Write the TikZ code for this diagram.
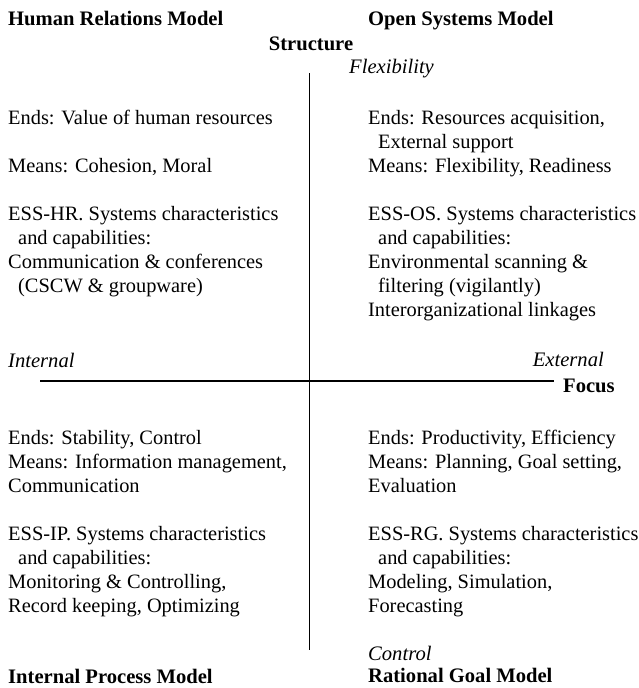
\documentclass[tikz,border=0pt]{standalone}
\usepackage{fontspec}
\setmainfont{Liberation Serif}
\tikzset{
  txt/.style={anchor=base west, inner sep=0pt, font=\fontsize{20.4}{24}\selectfont},
  hdr/.style={txt, font=\fontsize{20.6}{24}\selectfont\bfseries},
  itl/.style={txt, font=\fontsize{20.6}{24}\selectfont\itshape},
  axisv/.style={line width=1.5pt},
  axish/.style={line width=2.4pt}
}
\newcommand{\ind}{\hspace*{10pt}}
\begin{document}
\begin{tikzpicture}[x=1pt,y=-1pt]
\useasboundingbox (0,0) rectangle (639,688);
% headers
\node[hdr] (hr) at (8,25) {Human Relations Model};
\node[hdr] (os) at (368,25) {Open Systems Model};
\node[hdr, anchor=base] (struct) at (311,50) {Structure};
\node[itl] (flex) at (349,73) {Flexibility};
% axes
\coordinate (vtop) at (309.5,73);
\coordinate (vbot) at (309.5,650);
\coordinate (hl) at (40,381);
\coordinate (hr2) at (554,381);
\draw[axisv] (vtop) -- (vbot);
\draw[axish] (hl) -- (hr2);
\node[itl] (int) at (8,367) {Internal};
\node[itl, anchor=base east] (ext) at (604,366) {External};
\node[hdr] (focus) at (563,392) {Focus};
% top left
\node[txt] (tl1) at (8,124) {Ends: Value of human resources};
\node[txt] (tl2) at (8,172) {Means: Cohesion, Moral};
\node[txt] (tl3) at (8,220) {ESS-HR. Systems characteristics};
\node[txt] (tl4) at (8,244) {\ind and capabilities:};
\node[txt] (tl5) at (8,268) {Communication \& conferences};
\node[txt] (tl6) at (8,292) {\ind (CSCW \& groupware)};
% top right
\node[txt] (tr1) at (368,124) {Ends: Resources acquisition,};
\node[txt] (tr2) at (368,148) {\ind External support};
\node[txt] (tr3) at (368,172) {Means: Flexibility, Readiness};
\node[txt] (tr4) at (368,220) {ESS-OS. Systems characteristics};
\node[txt] (tr5) at (368,244) {\ind and capabilities:};
\node[txt] (tr6) at (368,268) {Environmental scanning \&};
\node[txt] (tr7) at (368,292) {\ind filtering (vigilantly)};
\node[txt] (tr8) at (368,316) {Interorganizational linkages};
% bottom left
\node[txt] (bl1) at (8,444) {Ends: Stability, Control};
\node[txt] (bl2) at (8,468) {Means: Information management,};
\node[txt] (bl3) at (8,492) {Communication};
\node[txt] (bl4) at (8,540) {ESS-IP. Systems characteristics};
\node[txt] (bl5) at (8,564) {\ind and capabilities:};
\node[txt] (bl6) at (8,588) {Monitoring \& Controlling,};
\node[txt] (bl7) at (8,612) {Record keeping, Optimizing};
% bottom right
\node[txt] (br1) at (368,444) {Ends: Productivity, Efficiency};
\node[txt] (br2) at (368,468) {Means: Planning, Goal setting,};
\node[txt] (br3) at (368,492) {Evaluation};
\node[txt] (br4) at (368,540) {ESS-RG. Systems characteristics};
\node[txt] (br5) at (368,564) {\ind and capabilities:};
\node[txt] (br6) at (368,588) {Modeling, Simulation,};
\node[txt] (br7) at (368,612) {Forecasting};
\node[itl] (ctrl) at (368,660) {Control};
% bottom headers
\node[hdr] (ip) at (8,683) {Internal Process Model};
\node[hdr] (rg) at (368,682) {Rational Goal Model};
\end{tikzpicture}
\end{document}
